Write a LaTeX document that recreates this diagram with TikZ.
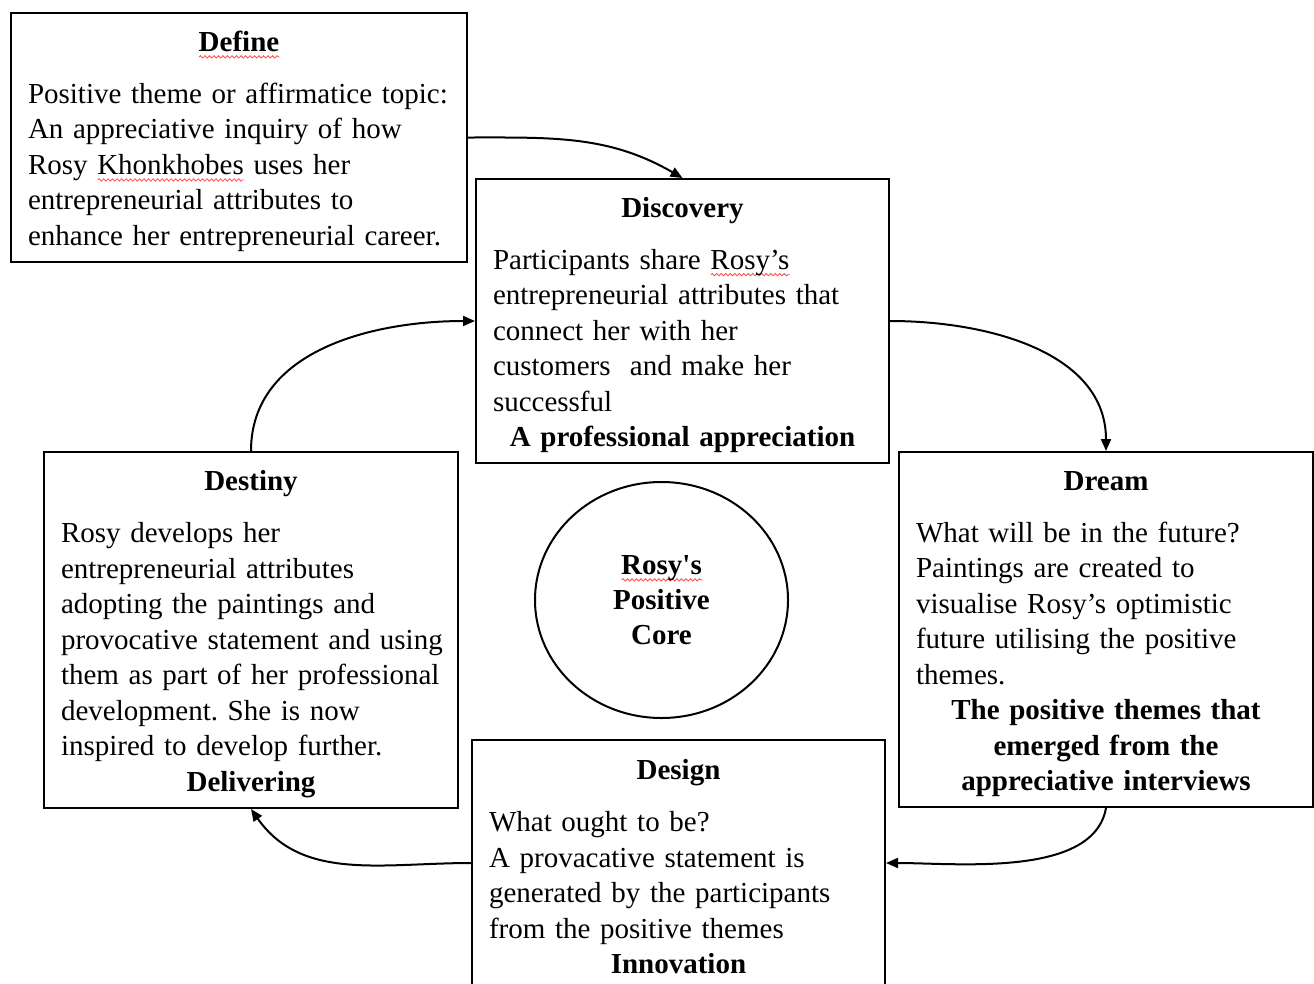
\documentclass[tikz,border=0pt]{standalone}
\usepackage{fontspec}
\setmainfont{Liberation Serif}
\usetikzlibrary{arrows.meta,shapes.geometric,decorations.pathmorphing}

\newlength\spellw
\newcommand\spellmark[1]{\settowidth\spellw{#1}%
  \rlap{\tikz[baseline=0pt,x=1pt,y=1pt]\draw[red!70,line width=0.8pt,decorate,
    decoration={snake,amplitude=1.2pt,segment length=4.5pt}] (0,-5.5) -- (\spellw,-5.5);}#1}
\newcommand\phasefont{\fontsize{29}{35.5}\selectfont\fontdimen2\font=6.4pt\relax}
\newcommand\phasehead[1]{{\centering\bfseries\rule{0pt}{28pt}#1\par}\vspace{16.5pt}}
\newcommand\phasetail[1]{{\centering\bfseries #1\par}}

\begin{document}
\frenchspacing
\hyphenpenalty=10000
\exhyphenpenalty=10000
\begin{tikzpicture}[x=1pt,y=-1pt,
    phase/.style={draw,line width=2pt,anchor=north west,inner xsep=17pt,
      align=left,font=\phasefont},
    core/.style={draw,ellipse,line width=2pt,align=center,
      font=\fontsize{29}{35}\selectfont\bfseries},
    flow/.style={line width=2pt,-{Triangle[length=12pt,width=10pt]}}]
  \useasboundingbox[fill=white] (0,0) rectangle (1314,983);

  \node[phase,minimum width=456pt,minimum height=249pt,text width=422pt] (define) at (10,12) {%
    \phasehead{\spellmark{Define}}
    Positive theme or affirmatice topic:\\
    An appreciative inquiry of how\\
    Rosy \spellmark{Khonkhobes} uses her\\
    entrepreneurial attributes to\\
    enhance her entrepreneurial career.};

  \node[phase,minimum width=413pt,minimum height=284pt,text width=379pt] (discovery) at (475,178) {%
    \phasehead{Discovery}
    Participants share \spellmark{Rosy’s}\\
    entrepreneurial attributes that\\
    connect her with her\\
    customers\ \ and make her\\
    successful\par
    \phasetail{A professional appreciation}};

  \node[phase,minimum width=414pt,minimum height=355pt,text width=380pt] (dream) at (898,451) {%
    \phasehead{Dream}
    What will be in the future?\\
    Paintings are created to\\
    visualise Rosy’s optimistic\\
    future utilising the positive\\
    themes.\par
    \phasetail{The positive themes that\\ emerged from the\\ appreciative interviews}};

  \node[phase,minimum width=414pt,minimum height=356pt,text width=380pt] (destiny) at (43,451) {%
    \phasehead{Destiny}
    Rosy develops her\\
    entrepreneurial attributes\\
    adopting the paintings and\\
    \mbox{provocative statement and using}\\
    them as part of her professional\\
    development. She is now\\
    inspired to develop further.\par
    \phasetail{Delivering}};

  \node[phase,minimum width=413pt,minimum height=246pt,text width=379pt] (design) at (471,739) {%
    \phasehead{Design}
    What ought to be?\\
    A provacative statement is\\
    generated by the participants\\
    from the positive themes\par
    \phasetail{Innovation}};

  \node[core,minimum width=253pt,minimum height=236pt] (core) at (661.5,600)
    {\spellmark{Rosy\textquotesingle s}\\ Positive\\ Core};

  \draw[flow] (define.east) to[out=0,in=150] (discovery.north);
  \draw[flow] (discovery.east) to[out=0,in=90] (dream.north);
  \draw[flow] (dream.south) to[out=-100,in=0,looseness=0.8] (design.east);
  \draw[flow] (design.west) to[out=180,in=-55] (destiny.south);
  \draw[flow] (destiny.north) to[out=90,in=180] (discovery.west);

\end{tikzpicture}
\end{document}
